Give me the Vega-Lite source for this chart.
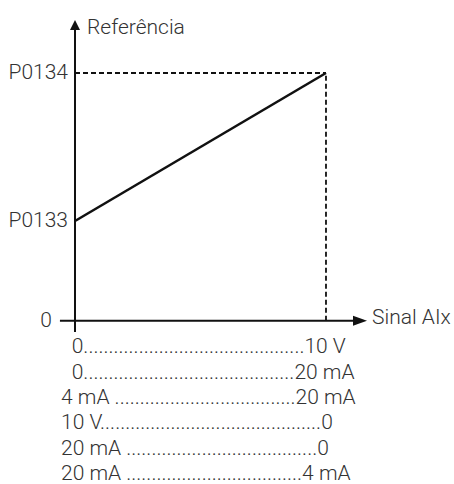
{
  "$schema": "https://vega.github.io/schema/vega-lite/v6.json",
  "width": 454,
  "height": 484,
  "padding": 0,
  "autosize": {"type": "none"},
  "background": "white",
  "config": {"view": {"stroke": null}, "text": {"font": "Roboto", "fontWeight": 300, "fontSize": 21, "color": "#333333"}},
  "datasets": {
    "axes": [
      {"x": 0, "y": -0.046, "x2": 0, "y2": 1.175},
      {"x": -0.6, "y": 0, "x2": 11.08, "y2": 0}
    ],
    "guides": [
      {"x": 0, "y": 1, "x2": 10, "y2": 1},
      {"x": 10, "y": 0, "x2": 10, "y2": 1}
    ],
    "curve": [
      {"x": 0, "y": 0.4025},
      {"x": 10, "y": 1}
    ],
    "upArrow": [{"x": 0, "y": 1.1938}],
    "rightArrow": [{"x": 11.355, "y": 0}],
    "ylabels": [
      {"x": -0.279, "y": 1, "label": "P0134"},
      {"x": -0.279, "y": 0.4025, "label": "P0133"},
      {"x": -0.916, "y": 0, "label": "0"}
    ],
    "titles": [
      {"x": 0.478, "y": 1.1817, "label": "Referência"},
      {"x": 11.833, "y": 0.01, "label": "Sinal AIx"}
    ],
    "rows": [
      {"x": -0.131, "y": -0.1062, "label": "0............................................10 V"},
      {"x": -0.131, "y": -0.2111, "label": "0..........................................20 mA"},
      {"x": -0.558, "y": -0.3121, "label": "4 mA ....................................20 mA"},
      {"x": -0.558, "y": -0.4130, "label": "10 V............................................0"},
      {"x": -0.558, "y": -0.5180, "label": "20 mA ......................................0"},
      {"x": -0.558, "y": -0.6189, "label": "20 mA ...................................4 mA"}
    ]
  },
  "encoding": {
    "x": {"field": "x", "type": "quantitative", "scale": {"domain": [-2.988, 15.1], "nice": false, "zero": false}, "axis": null},
    "y": {"field": "y", "type": "quantitative", "scale": {"domain": [-0.6593, 1.2947], "nice": false, "zero": false}, "axis": null}
  },
  "layer": [
    {
      "data": {"name": "guides"},
      "mark": {"type": "rule", "stroke": "#111111", "strokeWidth": 1.8, "strokeDash": [5, 3]},
      "encoding": {"x2": {"field": "x2"}, "y2": {"field": "y2"}}
    },
    {
      "data": {"name": "axes"},
      "mark": {"type": "rule", "stroke": "#111111", "strokeWidth": 2},
      "encoding": {"x2": {"field": "x2"}, "y2": {"field": "y2"}}
    },
    {
      "data": {"name": "curve"},
      "mark": {"type": "line", "stroke": "#111111", "strokeWidth": 2.6},
      "encoding": {}
    },
    {
      "data": {"name": "upArrow"},
      "mark": {"type": "point", "shape": "M-1,1L0,-1L1,1Z", "size": 100, "filled": true, "color": "#111111", "opacity": 1},
      "encoding": {}
    },
    {
      "data": {"name": "rightArrow"},
      "mark": {"type": "point", "shape": "M-1,-0.714L1,0L-1,0.714Z", "size": 196, "filled": true, "color": "#111111", "opacity": 1},
      "encoding": {}
    },
    {
      "data": {"name": "ylabels"},
      "mark": {"type": "text", "align": "right", "baseline": "middle"},
      "encoding": {"text": {"field": "label"}}
    },
    {
      "data": {"name": "titles"},
      "mark": {"type": "text", "align": "left", "baseline": "middle"},
      "encoding": {"text": {"field": "label"}}
    },
    {
      "data": {"name": "rows"},
      "mark": {"type": "text", "align": "left", "baseline": "middle"},
      "encoding": {"text": {"field": "label"}}
    }
  ]
}
